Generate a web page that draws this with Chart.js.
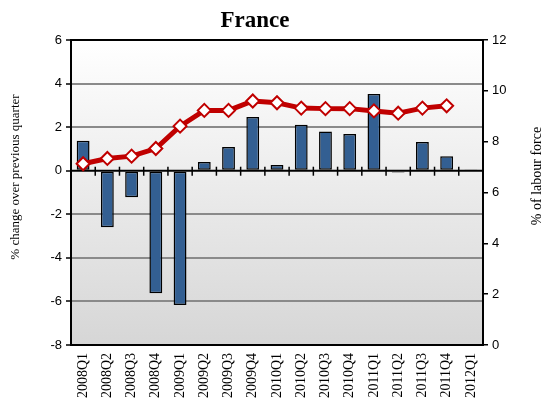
<!DOCTYPE html>
<html>
<head>
<meta charset="utf-8">
<script src="https://cdn.jsdelivr.net/npm/chart.js@4.4.1/dist/chart.umd.min.js"></script>
<style>
  html, body { margin: 0; padding: 0; background: #fff; }
  #wrap { width: 545px; height: 407px; position: relative; }
</style>
</head>
<body>
<div id="wrap"><canvas id="franceChart" width="545" height="407"></canvas></div>
<script>
const quarters = [
    '2008Q1', '2008Q2', '2008Q3', '2008Q4',
    '2009Q1', '2009Q2', '2009Q3', '2009Q4',
    '2010Q1', '2010Q2', '2010Q3', '2010Q4',
    '2011Q1', '2011Q2', '2011Q3', '2011Q4',
    '2012Q1'
];
// employment change, % over previous quarter (left axis)
const changeValues = [1.38, -2.6, -1.22, -5.63, -6.16, 0.4, 1.09, 2.46, 0.26, 2.11, 1.8, 1.68, 3.52, -0.08, 1.32, 0.66, 0.02];
// unemployment rate, % of labour force (right axis)
const unemploymentValues = [7.13, 7.34, 7.43, 7.73, 8.61, 9.23, 9.23, 9.6, 9.53, 9.32, 9.3, 9.3, 9.21, 9.12, 9.32, 9.41, null];
const leftTicks = [-8, -6, -4, -2, 0, 2, 4, 6];
const rightTicks = [0, 2, 4, 6, 8, 10, 12];

const serif = '"Liberation Serif", "Times New Roman", serif';
const sans = '"Liberation Sans", Arial, sans-serif';

// plot background gradient + frame + zero line ticks + titles
const decorations = {
    id: 'decorations',
    beforeDraw(chart) {
        const { ctx, chartArea: a } = chart;
        const g = ctx.createLinearGradient(0, a.top, 0, a.bottom);
        g.addColorStop(0, '#ffffff');
        g.addColorStop(1, '#d6d6d6');
        ctx.save();
        ctx.fillStyle = g;
        ctx.fillRect(a.left, a.top, a.right - a.left, a.bottom - a.top);
        ctx.restore();
    },
    beforeDatasetsDraw(chart) {
        const { ctx, chartArea: a, scales } = chart;
        const x = scales.x;
        const y0 = scales.y.getPixelForValue(0);
        ctx.save();
        ctx.strokeStyle = '#000';
        ctx.lineWidth = 2;
        ctx.beginPath();
        ctx.moveTo(a.left, y0);
        ctx.lineTo(a.right, y0);
        ctx.stroke();
        ctx.lineWidth = 1.5;
        for (let i = 0; i < quarters.length - 1; i++) {
            const bx = (x.getPixelForValue(i) + x.getPixelForValue(i + 1)) / 2;
            ctx.beginPath();
            ctx.moveTo(bx, y0 - 4);
            ctx.lineTo(bx, y0 + 5);
            ctx.stroke();
        }
        ctx.restore();
    },
    afterDraw(chart) {
        const { ctx, chartArea: a } = chart;
        ctx.save();
        ctx.strokeStyle = '#000';
        ctx.lineWidth = 2;
        ctx.strokeRect(a.left, a.top, a.right - a.left, a.bottom - a.top);

        ctx.fillStyle = '#000';
        ctx.textAlign = 'center';
        ctx.textBaseline = 'alphabetic';
        ctx.font = 'bold 23px ' + serif;
        ctx.fillText('France', 255, 27);

        ctx.font = '13px ' + serif;
        ctx.textBaseline = 'middle';
        ctx.translate(16, 177);
        ctx.rotate(-Math.PI / 2);
        ctx.fillText('% change over previous quarter', 0, 0);
        ctx.restore();

        ctx.save();
        ctx.fillStyle = '#000';
        ctx.textAlign = 'center';
        ctx.textBaseline = 'middle';
        ctx.font = '14px ' + serif;
        ctx.translate(537, 176);
        ctx.rotate(-Math.PI / 2);
        ctx.fillText('% of labour force', 0, 0);
        ctx.restore();
    }
};

const chart = new Chart(document.getElementById('franceChart'), {
    data: {
        labels: quarters,
        datasets: [{
            type: 'line',
            label: 'Unemployment rate',
            data: unemploymentValues,
            yAxisID: 'y2',
            borderColor: '#c00000',
            borderWidth: 5,
            pointStyle: 'rectRot',
            pointRadius: 6.5,
            pointBackgroundColor: '#ffffff',
            pointBorderColor: '#c00000',
            pointBorderWidth: 2,
            tension: 0,
            order: 0
        }, {
            type: 'bar',
            label: 'Employment change',
            data: changeValues,
            yAxisID: 'y',
            backgroundColor: '#335f92',
            borderColor: '#000000',
            borderWidth: 1.5,
            borderSkipped: false,
            categoryPercentage: 1,
            barPercentage: 0.53,
            order: 1
        }]
    },
    options: {
        responsive: false,
        animation: false,
        layout: { padding: { top: 40, left: 0, right: 0, bottom: 0 } },
        plugins: {
            legend: { display: false },
            tooltip: { enabled: false },
            title: { display: false }
        },
        scales: {
            x: {
                offset: true,
                grid: { display: false, drawTicks: false },
                border: { display: false },
                ticks: {
                    autoSkip: false,
                    minRotation: 90,
                    maxRotation: 90,
                    padding: 8,
                    color: '#000',
                    font: { family: serif, size: 14 }
                },
                afterFit(scale) { scale.height = 62; }
            },
            y: {
                position: 'left',
                min: -8,
                max: 6,
                afterBuildTicks(scale) { scale.ticks = leftTicks.map(v => ({ value: v })); },
                grid: {
                    color: ctx => (ctx.tick && (ctx.tick.value === 0 || ctx.tick.value === 6 || ctx.tick.value === -8)) ? 'rgba(0,0,0,0)' : '#8a8a8a',
                    lineWidth: 2,
                    tickLength: 5,
                    tickColor: '#000',
                    tickWidth: 1.5
                },
                border: { color: '#000', width: 2 },
                ticks: {
                    color: '#000',
                    padding: 4,
                    font: { family: sans, size: 13 }
                },
                afterFit(scale) { scale.width = 71; }
            },
            y2: {
                position: 'right',
                min: 0,
                max: 12,
                afterBuildTicks(scale) { scale.ticks = rightTicks.map(v => ({ value: v })); },
                grid: {
                    drawOnChartArea: false,
                    tickLength: 5,
                    color: '#000',
                    lineWidth: 1.5
                },
                border: { color: '#000', width: 2 },
                ticks: {
                    color: '#000',
                    padding: 4,
                    font: { family: sans, size: 13 }
                },
                afterFit(scale) { scale.width = 62; }
            }
        }
    },
    plugins: [decorations]
});
</script>
</body>
</html>
